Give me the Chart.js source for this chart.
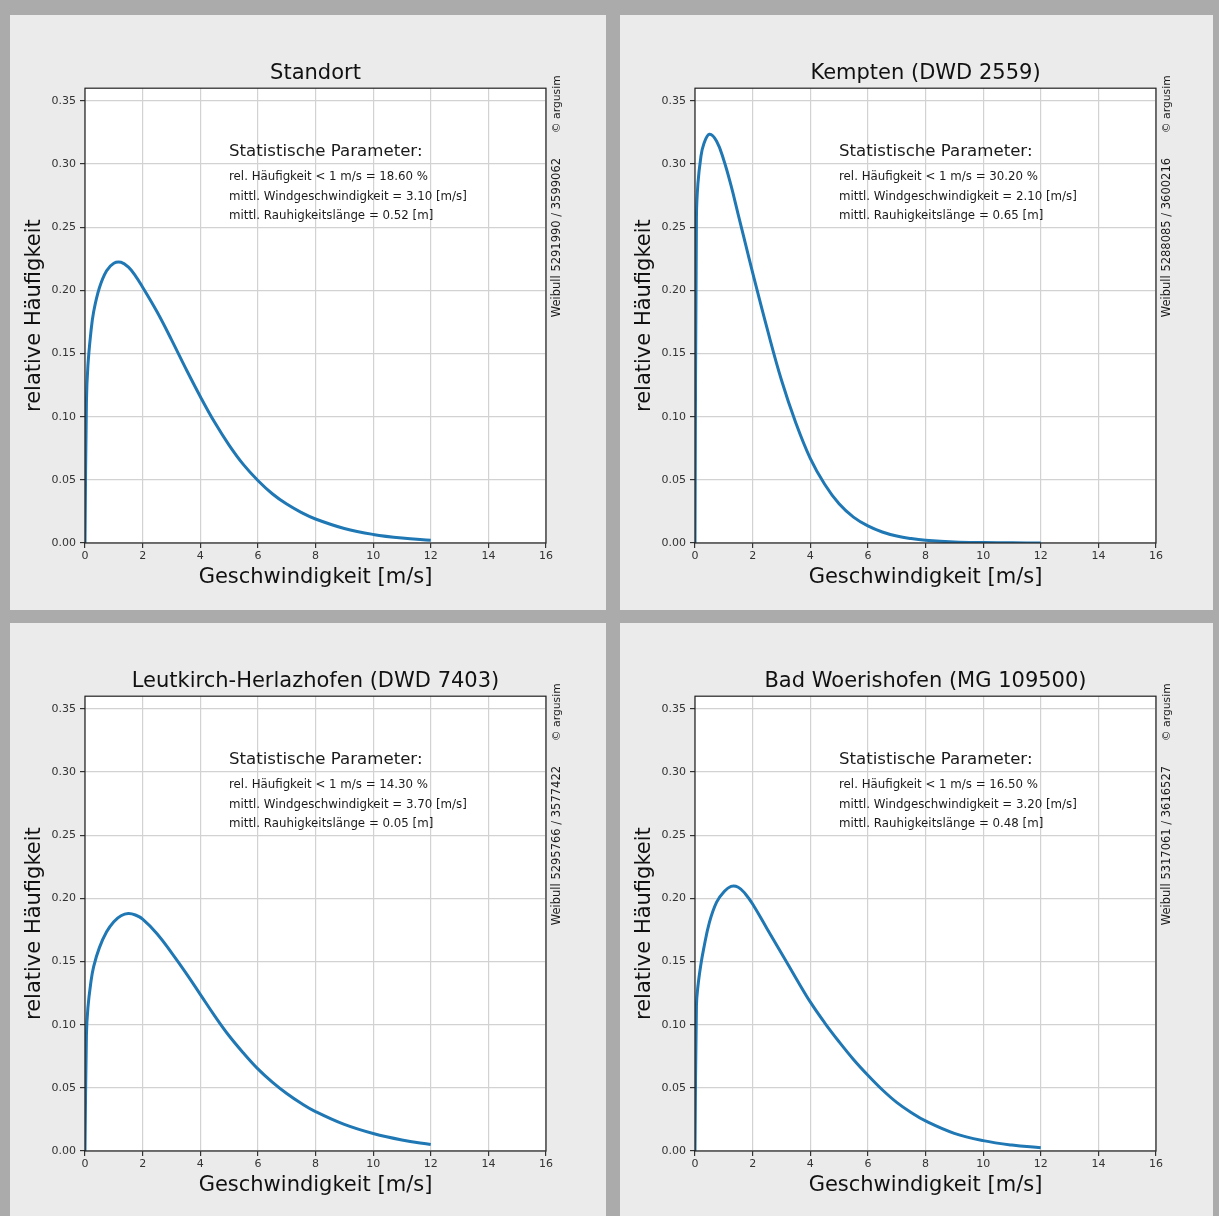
<!DOCTYPE html>
<html>
<head>
<meta charset="utf-8">
<script src="https://cdn.jsdelivr.net/npm/chart.js@4.4.0/dist/chart.umd.min.js"></script>
<style>
body{margin:0;background:#ababab;width:1219px;height:1216px;overflow:hidden;position:relative;}
.panel{position:absolute;background:#ebebeb;overflow:hidden;}
.panel canvas{display:block;}
</style>
</head>
<body>
<div class="panel" style="left:10px;top:15px;width:596px;height:595px"><canvas id="chart1" width="596" height="595"></canvas></div>
<div class="panel" style="left:620px;top:15px;width:593px;height:595px"><canvas id="chart2" width="596" height="595"></canvas></div>
<div class="panel" style="left:10px;top:623px;width:596px;height:593px"><canvas id="chart3" width="596" height="595"></canvas></div>
<div class="panel" style="left:620px;top:623px;width:593px;height:593px"><canvas id="chart4" width="596" height="595"></canvas></div>
<script>
// wind speed [m/s]
const speeds = [0, 0.05, 0.1, 0.2, 0.3, 0.5, 0.75, 1, 1.25, 1.5, 1.75, 2, 2.5, 3, 3.5, 4, 4.5, 5, 5.5, 6, 6.5, 7, 7.5, 8, 9, 10, 11, 12];

// relative Häufigkeit
const standort = [0, 0.112, 0.14, 0.166, 0.183, 0.202, 0.2155, 0.2215, 0.2222, 0.2185, 0.2115, 0.2025, 0.183, 0.161, 0.138, 0.116, 0.0955, 0.0775, 0.062, 0.0495, 0.039, 0.0308, 0.0243, 0.019, 0.0115, 0.0068, 0.0039, 0.0022];
const kempten = [0, 0.258, 0.284, 0.305, 0.3155, 0.3235, 0.318, 0.303, 0.283, 0.26, 0.237, 0.214, 0.17, 0.129, 0.095, 0.067, 0.0465, 0.031, 0.0205, 0.0135, 0.0087, 0.0055, 0.0035, 0.0022, 0.0008, 0.0003, 0.0001, 0];
const leutkirch = [0, 0.092, 0.113, 0.133, 0.146, 0.161, 0.1735, 0.1815, 0.1862, 0.188, 0.1868, 0.1835, 0.172, 0.157, 0.141, 0.124, 0.107, 0.0912, 0.0775, 0.065, 0.0545, 0.0455, 0.0378, 0.0312, 0.021, 0.0138, 0.0087, 0.0052];
const woerishofen = [0, 0.115, 0.13, 0.147, 0.16, 0.181, 0.197, 0.205, 0.2095, 0.2088, 0.2035, 0.1955, 0.176, 0.1565, 0.137, 0.118, 0.1015, 0.0865, 0.0725, 0.06, 0.0485, 0.0385, 0.0305, 0.0238, 0.014, 0.0082, 0.0047, 0.0026];

const titles = ['Standort', 'Kempten (DWD 2559)', 'Leutkirch-Herlazhofen (DWD 7403)', 'Bad Woerishofen (MG 109500)'];
const haeufigkeitUnter1 = ['18.60', '30.20', '14.30', '16.50'];
const mittlWind = ['3.10', '2.10', '3.70', '3.20'];
const rauhigkeit = ['0.52', '0.65', '0.05', '0.48'];
const weibullPos = ['5291990 / 3599062', '5288085 / 3600216', '5295766 / 3577422', '5317061 / 3616527'];

const xMax = 16, xStep = 2;
const yMax = 0.36, yStep = 0.05;

const FONT = '"DejaVu Sans", sans-serif';
Chart.defaults.font.family = FONT;
Chart.defaults.color = '#222';

// white plot area, black frame, annotation texts
const panelDeco = {
    id: 'panelDeco',
    beforeDraw(chart) {
        const {ctx, chartArea: a} = chart;
        ctx.save();
        ctx.fillStyle = '#ffffff';
        ctx.fillRect(a.left, a.top, a.right - a.left, a.bottom - a.top);
        ctx.restore();
    },
    afterDraw(chart, args, opts) {
        const {ctx, chartArea: a} = chart;
        ctx.save();
        ctx.strokeStyle = '#222';
        ctx.lineWidth = 1.2;
        ctx.strokeRect(a.left, a.top, a.right - a.left, a.bottom - a.top);

        ctx.fillStyle = '#1a1a1a';
        ctx.textAlign = 'left';
        ctx.textBaseline = 'middle';
        ctx.font = '16.6px ' + FONT;
        ctx.fillText('Statistische Parameter:', a.left + 144, a.top + 63);
        ctx.font = '11.8px ' + FONT;
        ctx.fillText(opts.lines[0], a.left + 144, a.top + 89);
        ctx.fillText(opts.lines[1], a.left + 144, a.top + 109);
        ctx.fillText(opts.lines[2], a.left + 144, a.top + 128);

        ctx.translate(a.right + 11, 0);
        ctx.rotate(-Math.PI / 2);
        ctx.font = '11.5px ' + FONT;
        ctx.fillText(opts.weibull, -(a.top + 229), 0);
        ctx.font = '10.8px ' + FONT;
        ctx.fillText('\u00A9 argusim', -(a.top + 45), 0);
        ctx.restore();
    }
};

function makeChart(id, i, values) {
    return new Chart(document.getElementById(id), {
        type: 'line',
        data: {
            datasets: [{
                data: speeds.map((s, k) => ({x: s, y: values[k]})),
                borderColor: '#1f77b4',
                borderWidth: 3,
                pointRadius: 0,
                fill: false,
                tension: 0.4
            }]
        },
        options: {
            responsive: false,
            animation: false,
            layout: {padding: {left: 0, right: 60, top: 0, bottom: 0}},
            plugins: {
                legend: {display: false},
                tooltip: {enabled: false},
                title: {
                    display: true,
                    fullSize: false,
                    text: titles[i],
                    color: '#111',
                    font: {size: 21, weight: 'normal'},
                    padding: {top: 46, bottom: 2}
                },
                panelDeco: {
                    lines: [
                        'rel. Häufigkeit < 1 m/s = ' + haeufigkeitUnter1[i] + ' %',
                        'mittl. Windgeschwindigkeit = ' + mittlWind[i] + ' [m/s]',
                        'mittl. Rauhigkeitslänge = ' + rauhigkeit[i] + ' [m]'
                    ],
                    weibull: 'Weibull ' + weibullPos[i]
                }
            },
            scales: {
                x: {
                    type: 'linear',
                    min: 0,
                    max: xMax,
                    afterFit(scale) { scale.height = 67; },
                    grid: {color: '#d2d2d2', lineWidth: 1.2, tickColor: '#333', tickLength: 5},
                    border: {display: false},
                    ticks: {stepSize: xStep, maxRotation: 0, padding: 2, color: '#333', font: {size: 11}, callback: v => v},
                    title: {display: true, text: 'Geschwindigkeit [m/s]', color: '#111', font: {size: 21}, padding: {top: 0, bottom: 20}}
                },
                y: {
                    min: 0,
                    max: yMax,
                    afterFit(scale) { scale.width = 75; },
                    grid: {color: '#d2d2d2', lineWidth: 1.2, tickColor: '#333', tickLength: 5},
                    border: {display: false},
                    ticks: {stepSize: yStep, includeBounds: false, padding: 4, color: '#333', font: {size: 11}, callback: v => v.toFixed(2)},
                    title: {display: true, text: 'relative Häufigkeit', color: '#111', font: {size: 21}, padding: {top: 12, bottom: 0}}
                }
            }
        },
        plugins: [panelDeco]
    });
}

makeChart('chart1', 0, standort);
makeChart('chart2', 1, kempten);
makeChart('chart3', 2, leutkirch);
makeChart('chart4', 3, woerishofen);
</script>
</body>
</html>
